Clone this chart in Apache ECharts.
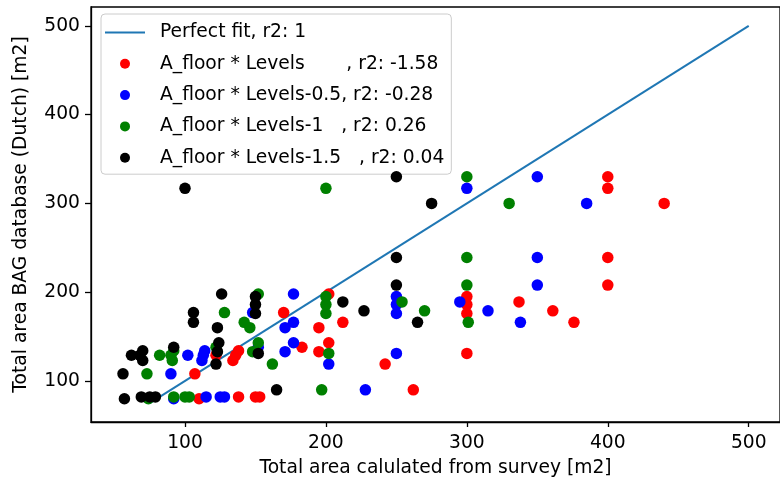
<!DOCTYPE html>
<html>
<head>
<meta charset="utf-8">
<script src="https://cdn.jsdelivr.net/npm/echarts@6/dist/echarts.min.js"></script>
<style>
  html, body { margin: 0; padding: 0; background: #ffffff; }
  #chart { width: 780px; height: 487px; }
</style>
</head>
<body>
<div id="chart"></div>
<script>
// Total floor area from the BAG register (y) against area computed from the survey (x),
// one point per building for each way of counting the levels.
const bagArea = [330, 317, 300, 239, 208, 198, 195, 189, 186, 179, 177, 176, 166, 166, 160,
                 143, 138, 134, 133, 131, 129, 129, 123, 119, 108, 90, 80, 82, 82, 82];
const areaLevels = [400, 400, 440, 400, 400, 202, 300, 337, 300, 361, 170, 300, 212, 376, 195,
                    202, 183, 138, 195, 300, 122, 136, 134, 242, 107, 262, 110, 138, 150, 153];
const areaLevelsMinus05 = [350, 300, 385, 350, 350, 177, 250, 295, 250, 315, 148, 250, 177, 338, 171,
                           177, 152, 114, 171, 250, 102, 113, 112, 202, 90, 228, 92, 115, 125, 128];
const areaLevelsMinus1 = [300, 200, 330, 300, 300, 152, 200, 254, 200, 270, 128, 200, 142, 301, 146,
                          152, 122, 92, 148, 202, 82, 90, 91, 162, 73, 197, 74, 92, 100, 103];
const areaLevelsMinus15 = [250, 100, 275, 250, 250, 126, 150, 212, 150, 227, 106, 150, 106, 265, 123,
                           124, 92, 70, 123, 152, 62, 68, 70, 122, 56, 165, 57, 69, 75, 79];

const fitLine = [75, 500];
const xTicks = [100, 200, 300, 400, 500];
const yTicks = [100, 200, 300, 400, 500];

const seriesNames = [
  'Perfect fit, r2: 1',
  'A_floor * Levels       , r2: -1.58',
  'A_floor * Levels-0.5, r2: -0.28',
  'A_floor * Levels-1   , r2: 0.26',
  'A_floor * Levels-1.5   , r2: 0.04'
];
const seriesColors = ['#1f77b4', '#ff0000', '#0000ff', '#008000', '#000000'];

function pairs(xs, ys) {
  return xs.map((x, i) => [x, ys[i]]);
}

const FONT = 'DejaVu Sans';
const FS = 18.7;
const chart = echarts.init(document.getElementById('chart'), null, { renderer: 'canvas' });

const scatterSets = [areaLevels, areaLevelsMinus05, areaLevelsMinus1, areaLevelsMinus15];

// legend entries: a plain stroke for the line, filled circles for the scatter sets
const legendData = seriesNames.map((name, i) =>
  i === 0 ? { name: name, icon: 'path://M0,0H40V2H0Z' } : { name: name, icon: 'circle' });

chart.setOption({
  animation: false,
  backgroundColor: '#ffffff',
  grid: {
    left: 91, top: 7, width: 696, height: 415,
    show: true, borderColor: '#000000', borderWidth: 1.3, backgroundColor: 'transparent'
  },
  legend: {
    orient: 'vertical',
    left: 101, top: 14,
    padding: [9, 7, 7, 4],
    itemGap: 12.3,
    itemWidth: 40,
    itemHeight: 10,
    backgroundColor: 'rgba(255,255,255,0.85)',
    borderColor: '#cccccc',
    borderWidth: 1,
    borderRadius: 4,
    textStyle: { fontFamily: FONT, fontSize: FS, color: '#000000', padding: [0, 0, 0, 10] },
    data: legendData
  },
  xAxis: {
    type: 'value',
    min: 33.3, max: 522.2,
    name: 'Total area calulated from survey [m2]',
    nameLocation: 'middle',
    nameGap: 37,
    nameTextStyle: { fontFamily: FONT, fontSize: FS, color: '#000000' },
    splitLine: { show: false },
    axisLine: { show: true, onZero: false, lineStyle: { color: '#000000', width: 1.3 } },
    axisTick: { show: true, length: 5, customValues: xTicks, lineStyle: { color: '#000000', width: 1.3 } },
    axisLabel: { customValues: xTicks, margin: 12, fontFamily: FONT, fontSize: FS, color: '#000000' }
  },
  yAxis: {
    type: 'value',
    min: 53.75, max: 521.25,
    name: 'Total area BAG database (Dutch) [m2]',
    nameLocation: 'middle',
    nameGap: 60,
    nameTextStyle: { fontFamily: FONT, fontSize: FS, color: '#000000' },
    splitLine: { show: false },
    axisLine: { show: true, onZero: false, lineStyle: { color: '#000000', width: 1.3 } },
    axisTick: { show: true, length: 6, customValues: yTicks, lineStyle: { color: '#000000', width: 1.3 } },
    axisLabel: { customValues: yTicks, margin: 11, fontFamily: FONT, fontSize: FS, color: '#000000' }
  },
  series: [
    {
      name: seriesNames[0],
      type: 'line',
      data: pairs(fitLine, fitLine),
      symbol: 'none',
      lineStyle: { color: seriesColors[0], width: 2 },
      itemStyle: { color: seriesColors[0] },
      z: 1
    }
  ].concat(scatterSets.map((xs, i) => ({
    name: seriesNames[i + 1],
    type: 'scatter',
    data: pairs(xs, bagArea),
    symbol: 'circle',
    symbolSize: 11.5,
    itemStyle: { color: seriesColors[i + 1], opacity: 1 },
    z: 2 + i
  })))
});
</script>
</body>
</html>
